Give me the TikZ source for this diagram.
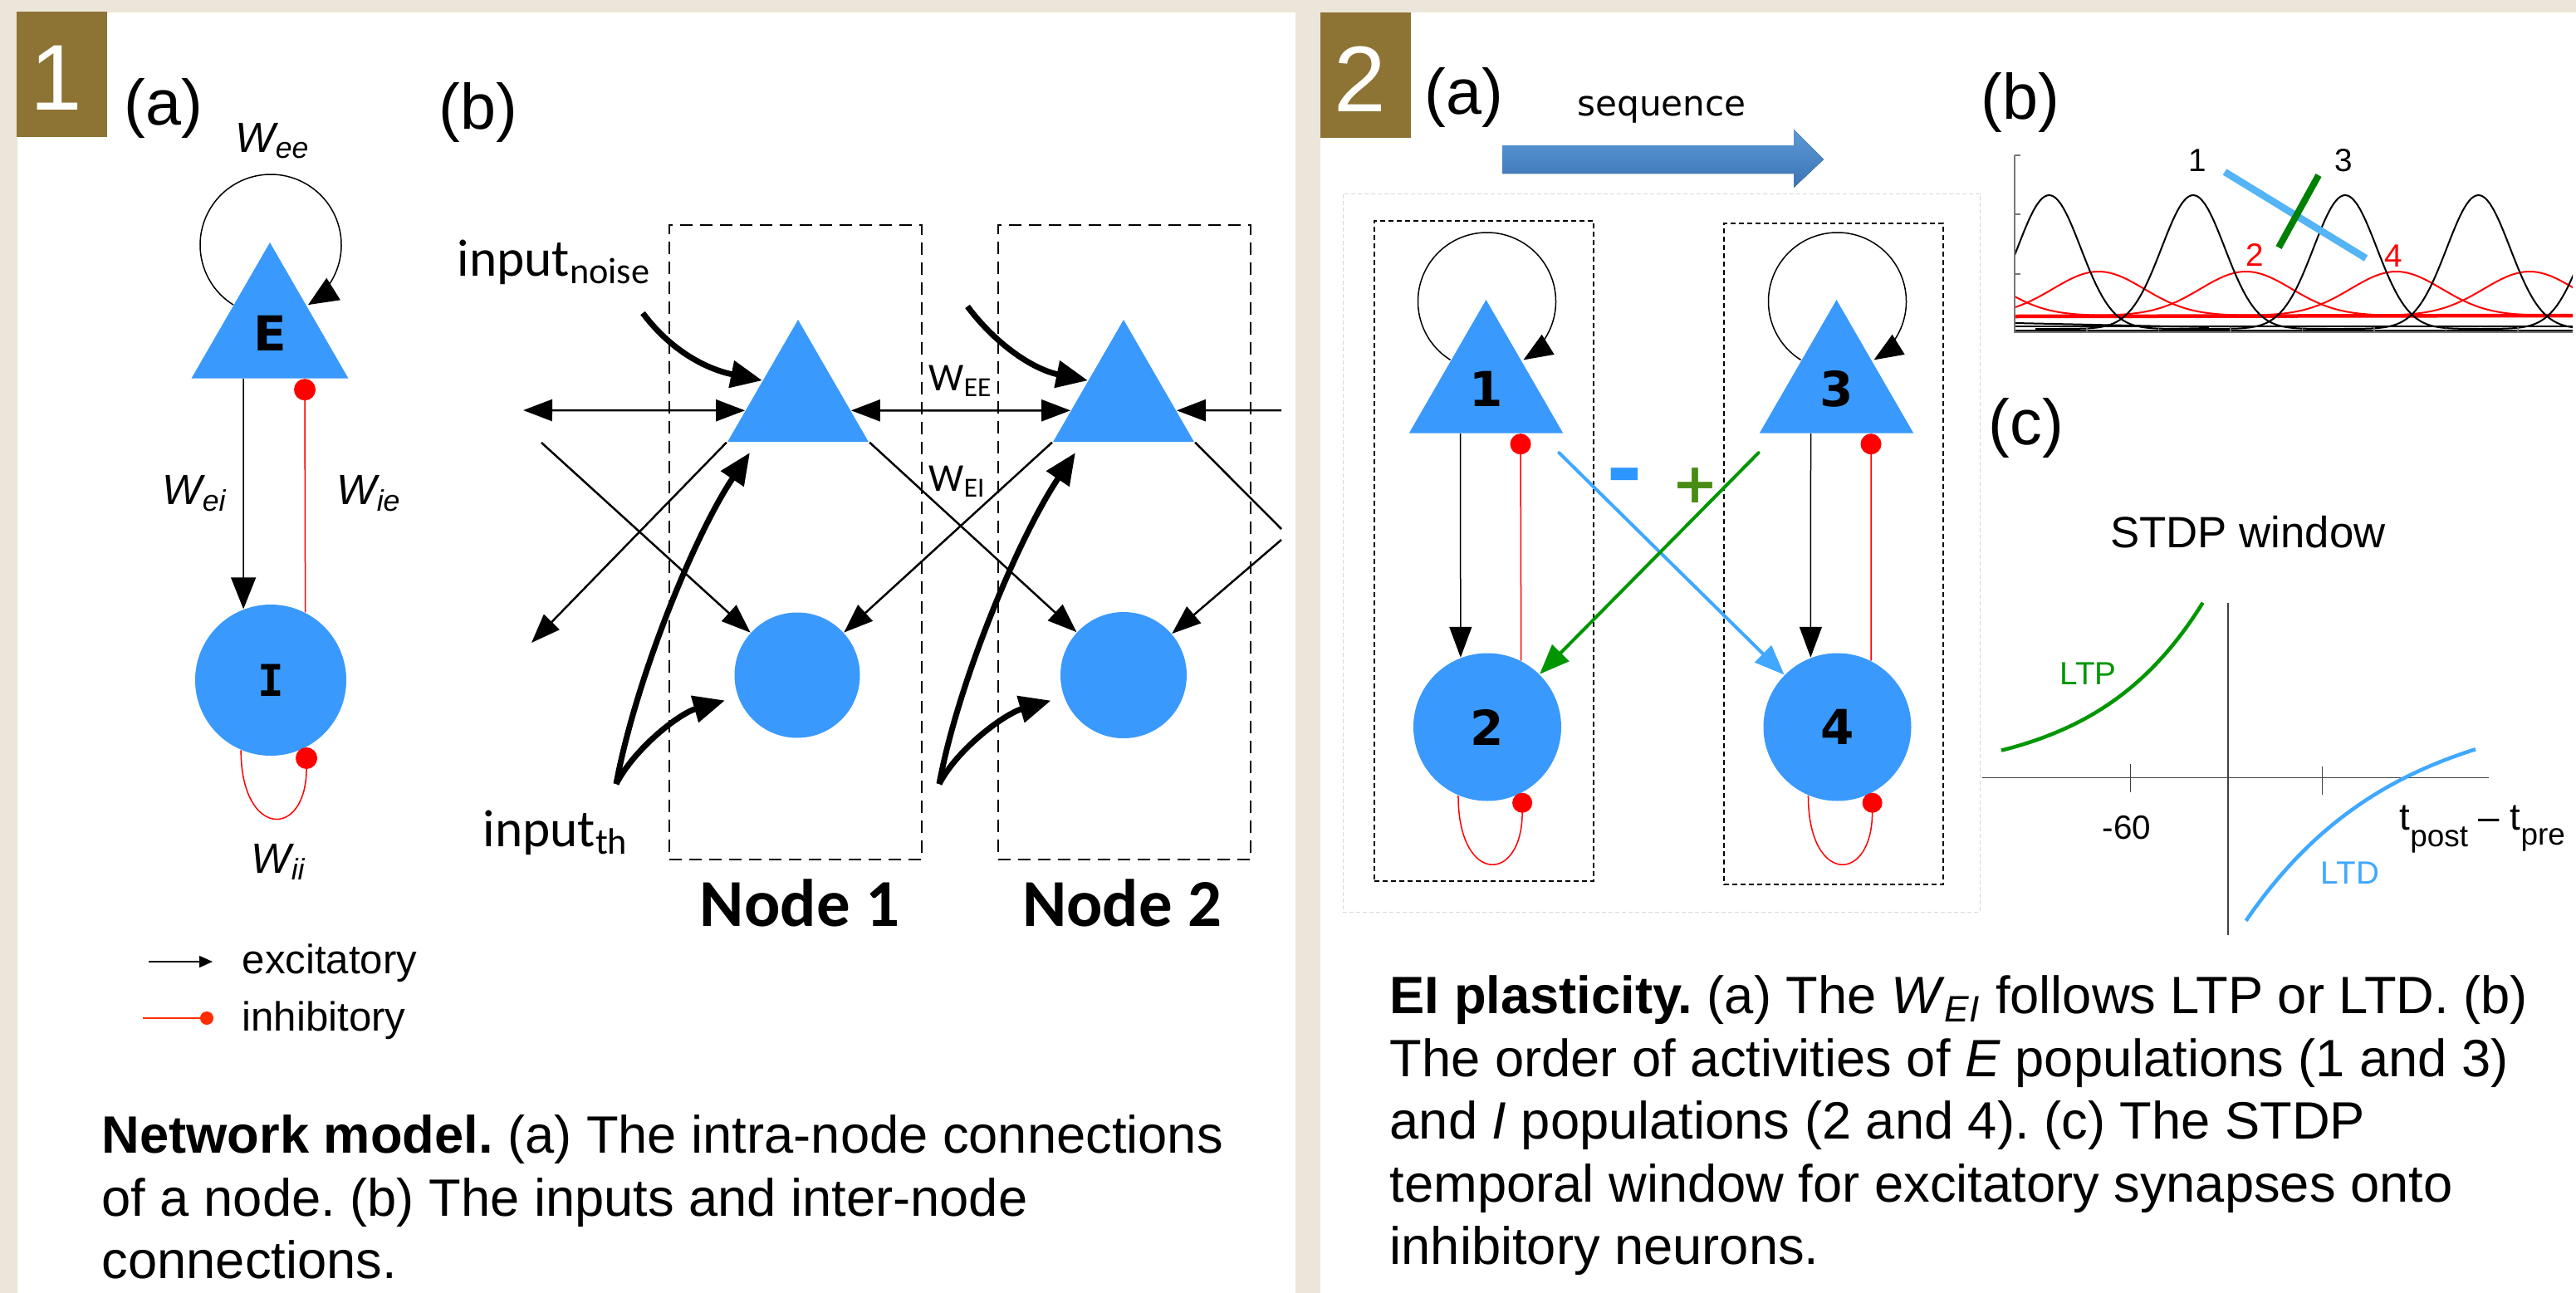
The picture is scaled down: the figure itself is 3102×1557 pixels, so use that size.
\documentclass[tikz,border=0pt]{standalone}
\usepackage{fontspec}
\setmainfont{Liberation Sans}
\newfontfamily\califont{Carlito}
\newfontfamily\verdfont{DejaVu Sans}
\newfontfamily\verdmono{DejaVu Sans Mono}
\usetikzlibrary{shapes.geometric, arrows.meta, positioning, calc}
\newcommand{\fsz}[1]{\fontsize{#1}{#1}\selectfont}
\frenchspacing

\definecolor{beige}{RGB}{236,229,217}
\definecolor{brownbox}{RGB}{141,115,52}
\definecolor{neuron}{RGB}{58,153,252}
\definecolor{inhred}{RGB}{255,0,0}
\definecolor{legred}{RGB}{255,45,0}
\definecolor{seqtop}{RGB}{92,152,215}
\definecolor{seqbot}{RGB}{60,116,180}
\definecolor{ltdblue}{RGB}{64,168,255}
\definecolor{minusblue}{RGB}{45,150,255}
\definecolor{ltpgreen}{RGB}{0,150,0}
\definecolor{plusgreen}{RGB}{72,140,20}
\definecolor{barblue}{RGB}{85,180,245}
\definecolor{bargreen}{RGB}{0,128,0}
\definecolor{faintgray}{RGB}{215,215,215}
\definecolor{axisgray}{RGB}{120,120,120}

\tikzset{
    numbox/.style={rectangle, fill=brownbox, minimum width=10.9mm, minimum height=15.1mm, inner sep=0},
    numtxt/.style={text=white, font=\fsz{32}, inner sep=0},
    sublbl/.style={font=\fsz{22}, inner sep=0, anchor=base west},
    pyr/.style={regular polygon, regular polygon sides=3, fill=neuron, inner sep=0},
    cell/.style={circle, fill=neuron, inner sep=0},
    exc/.style={draw=black, line width=0.15mm, -{Triangle[length=3.8mm, width=3mm]}},
    inh/.style={draw=inhred, line width=0.15mm, -{Circle[length=2.6mm]}},
    wlbl/.style={font=\fsz{14.5}\itshape, inner sep=0, anchor=base west},
    legtxt/.style={font=\fsz{14}, inner sep=0, anchor=west},
    nodebox/.style={draw=black, line width=0.25mm, dash pattern=on 1.5mm off 0.9mm},
    netlink/.style={draw=black, line width=0.25mm, -{Triangle[length=3.5mm, width=2.6mm]}},
    netlink2/.style={netlink, {Triangle[length=3.5mm, width=2.6mm]}-{Triangle[length=3.5mm, width=2.6mm]}},
    drive/.style={draw=black, line width=0.7mm, -{Triangle[length=3.8mm, width=3.2mm]}},
    cbl/.style={font=\califont\fsz{18}, inner sep=0, anchor=base west},
    nodelbl/.style={font=\califont\bfseries\fsz{23}, inner sep=0, anchor=base},
    ctxbox/.style={draw=faintgray, line width=0.1mm, dash pattern=on 0.5mm off 0.3mm},
    popbox/.style={draw=black, line width=0.15mm, dash pattern=on 0.6mm off 0.4mm},
    popnum/.style={font=\verdfont\bfseries\fsz{16.5}},
    plast/.style={line width=0.4mm, line cap=round, -{Triangle[length=3.6mm, width=2.8mm]}},
    redtrace/.style={draw=inhred, line width=0.2mm},
    blacktrace/.style={draw=black, line width=0.2mm},
    axisline/.style={draw=black!75, line width=0.12mm},
    smalllbl/.style={font=\fsz{11}, inner sep=0, anchor=base},
    captxt/.style={font=\fontsize{18}{21.5}\selectfont, align=left, inner sep=0, anchor=north west}
}

\begin{document}
\begin{tikzpicture}[x=0.1mm, y=-0.1mm]
\useasboundingbox (0,0) rectangle (3102,1557);

% Background and panels
\fill[beige] (0,0) rectangle (3102,1557);
\fill[white] (21,15) rectangle (1560,1557);
\fill[white] (1590,15) rectangle (3102,1557);

% Panel 1 (a): one node
\node[numbox] (num1) at (74.5,89.5) {};
\node[numtxt] (num1t) at ([xshift=-0.7mm, yshift=-0.4mm]num1.center) {1};
\node[sublbl] (lblA1) at (149,150) {(a)};

\node[pyr, minimum size=21.8mm, font=\verdfont\bfseries\fsz{16.5}] (E) at (325,401) {E};
\node[cell, minimum size=18.2mm, font=\verdmono\bfseries\fsz{15}] (I) at (326,819) {I};

\draw[exc, -{Triangle[length=3.6mm, width=3.1mm]}] ($(E.center)+(1,-106)+(122:85)$) arc[start angle=122, end angle=418, radius=85];
\draw[exc] ([xshift=-3.2mm]E.south) -- (I.111);
\draw[inh] (I.63) -- ([xshift=4.2mm]E.south);
\draw[inh] (I.247) .. controls +(0,106) and +(0,111) .. (I.298);

\node[wlbl] (wee) at (283,183) {W\textsubscript{ee}};
\node[wlbl] (wei) at (195,607) {W\textsubscript{ei}};
\node[wlbl] (wie) at (405,607) {W\textsubscript{ie}};
\node[wlbl] (wii) at (302,1051) {W\textsubscript{ii}};

% Legend
\coordinate (excA) at (179,1158);
\coordinate (excB) at (256,1158);
\coordinate (inhA) at (172,1226);
\coordinate (inhB) at (257,1226);
\draw[line width=0.15mm, -{Triangle[length=1.6mm, width=1.4mm]}] (excA) -- (excB);
\draw[legred, line width=0.15mm, -{Circle[length=1.6mm]}] (inhA) -- (inhB);
\node[legtxt] (excT) at (291,1160) {excitatory};
\node[legtxt] (inhT) at (291,1229) {inhibitory};

% Panel 1 (b): two nodes
\node[sublbl] (lblB1) at (528,155) {(b)};
\node[nodebox, minimum width=30.4mm, minimum height=76.4mm] (B1) at (958,653) {};
\node[nodebox, minimum width=30.4mm, minimum height=76.4mm] (B2) at (1354,653) {};
\node[pyr, minimum size=19.6mm] (T1) at (961,483) {};
\node[pyr, minimum size=19.6mm] (T2) at (1353,483) {};
\node[cell, minimum size=15.1mm] (C1) at (960,813) {};
\node[cell, minimum size=15.2mm] (C2) at (1353,813) {};

\coordinate (farL) at (630,494);
\coordinate (farR) at (1543,494);
\coordinate (outL) at (640,774);
\coordinate (inL) at (652,533);
\coordinate (outR) at (1543,637);
\coordinate (inR) at (1543,650);
\coordinate (nz1) at (774,377);
\coordinate (nz2) at (1165,369);
\coordinate (th1) at (742,944);
\coordinate (th2) at (1131,944);

\draw[netlink2] (farL) -- (T1.190);
\draw[netlink2] (T1.350) -- (T2.190);
\draw[netlink] (farR) -- (T2.350);
\draw[netlink] (T1.corner 2) -- (outL);
\draw[netlink] (inL) -- (C1);
\draw[netlink] (T1.corner 3) -- (C2);
\draw[netlink] (T2.corner 2) -- (C1);
\draw[netlink, -] (T2.corner 3) -- (outR);
\draw[netlink] (inR) -- (C2);

% External inputs
\foreach \k in {1,2} {
    \draw[drive] (nz\k) .. controls +(36,48) and +(-64,-13) .. (T\k.150);
    \draw[drive, shorten >=1.5mm] (th\k) .. controls +(23,-124) and +(-76,113) .. (T\k.225);
    \draw[drive, shorten >=1.6mm] (th\k) .. controls +(23,-44) and +(-70,20) .. (C\k.200);
}

\node[cbl] (innoise) at (550,332) {input\textsubscript{noise}};
\node[cbl] (inth) at (581,1019) {input\textsubscript{th}};
\node[cbl, font=\califont\fsz{13.5}] (wEE) at (1118,470) {W\textsubscript{EE}};
\node[cbl, font=\califont\fsz{13.5}] (wEI) at (1118,591) {W\textsubscript{EI}};
\node[nodelbl] (N1) at (963,1115) {Node 1};
\node[nodelbl] (N2) at (1351,1115) {Node 2};

% Panel 2 (a): EI plasticity
\node[numbox] (num2) at (1644,90) {};
\node[numtxt] (num2t) at ([xshift=-0.6mm, yshift=-0.5mm]num2.center) {2};
\node[sublbl] (lblA2) at (1715,137) {(a)};

\fill[top color=seqtop, bottom color=seqbot] (1809,175) -- (2160,175) -- (2160,156) -- (2196,192) -- (2160,226) -- (2160,209) -- (1809,209) -- cycle;
\node[font=\verdfont\fsz{12}, inner sep=0, anchor=base] (seq) at (2001,139) {sequence};

\node[ctxbox, minimum width=76.7mm, minimum height=86.5mm] (ctx) at (2000.5,665.5) {};
\node[popbox, minimum width=26.4mm, minimum height=79.5mm] (A1) at (1787,663.5) {};
\node[popbox, minimum width=26.4mm, minimum height=79.6mm] (A2) at (2208,667) {};

\node[pyr, minimum size=21.4mm, popnum] (P1) at (1789.5,468) {1};
\node[pyr, minimum size=21.4mm, popnum] (P3) at (2211.5,468) {3};
\node[cell, minimum size=17.8mm, popnum] (Q2) at (1791,875.5) {2};
\node[cell, minimum size=17.8mm, popnum] (Q4) at (2212.5,875.5) {4};

\foreach \pp/\qq in {P1/Q2, P3/Q4} {
    \draw[exc, -{Triangle[length=3.5mm, width=2.8mm]}] ($(\pp.center)+(1,-105)+(122:83)$) arc[start angle=122, end angle=418, radius=83];
    \draw[exc, -{Triangle[length=3.7mm, width=2.7mm]}] ([xshift=-3.1mm]\pp.south) -- (\qq.111);
    \draw[inh, -{Circle[length=2.5mm]}] (\qq.63) -- ([xshift=4.15mm]\pp.south);
    \draw[inh, -{Circle[length=2.4mm]}] (\qq.247) .. controls +(0,108) and +(0,110) .. (\qq.298);
}

\draw[plast, draw=ltdblue] ([shift={(-0.6mm,-2.3mm)}]P1.corner 3) -- (Q4);
\draw[plast, draw=ltpgreen] ([yshift=-2.3mm]P3.corner 2) -- (Q2);
\node[font=\verdfont\bfseries\fsz{30}, text=minusblue, inner sep=0] (minus) at (1956,583) {-};
\node[font=\verdfont\bfseries\fsz{19}, text=plusgreen, inner sep=0] (plus) at (2041,585) {+};

% Panel 2 (b): activity order
\node[sublbl] (lblB2) at (2385,143) {(b)};
\begin{scope}
    \clip (2426,150) rectangle (3098,400);
    \draw[redtrace, line width=0.45mm] (2426,381) -- (3098,380);
    \foreach \pk in {2355,2527,2704.6,2885.5,3046}
        \draw[redtrace] plot[domain=\pk-220:\pk+220, samples=60, smooth] (\x,{380-53*exp(-0.5*((\x-\pk)/55)*((\x-\pk)/55))});
    \foreach \pk in {2467.5,2641,2824,2984.5,3150}
        \draw[blacktrace] plot[domain=\pk-190:\pk+190, samples=70, smooth] (\x,{396-161*exp(-0.5*((\x-\pk)/38)*((\x-\pk)/38))});
    \draw[blacktrace] (2426,389) -- (2660,394);
    \draw[blacktrace] (2426,393) -- (3098,393);
    \draw[blacktrace, line width=0.3mm] (2426,398) -- (3098,398);
\end{scope}
\draw[axisgray, line width=0.12mm] (2426,187) -- (2426,400) -- (3098,400);
\foreach \ty in {187,258,330}
    \draw[axisgray, line width=0.12mm] (2426,\ty) -- (2433,\ty);
\foreach \tx in {2513,2599.5,2686,2772.5,2859,2945.5,3032}
    \draw[axisgray, line width=0.12mm] (\tx,400) -- (\tx,394);

\coordinate (bl1) at (2679,207);
\coordinate (bl2) at (2849,311);
\coordinate (gr1) at (2792,211);
\coordinate (gr2) at (2744,298);
\draw[barblue, line width=0.85mm] (bl1) -- (bl2);
\draw[bargreen, line width=0.8mm] (gr1) -- (gr2);
\node[smalllbl] (act1) at (2646,206) {1};
\node[smalllbl] (act3) at (2822,206) {3};
\node[smalllbl, text=inhred] (act2) at (2715,320) {2};
\node[smalllbl, text=inhred] (act4) at (2882,321) {4};

% Panel 2 (c): STDP window
\node[sublbl] (lblC2) at (2394,535) {(c)};
\node[font=\fsz{15}, inner sep=0, anchor=base] (stdp) at (2707,659) {STDP window};
\coordinate (xL) at (2387,936.6);
\coordinate (xR) at (2997,936.6);
\coordinate (yT) at (2683,726);
\coordinate (yB) at (2683,1126);
\draw[axisline] (xL) -- (xR);
\draw[axisline] (yT) -- (yB);
\draw[axisline] (2565.5,920) -- (2565.5,953.6);
\draw[axisline] (2796.7,923) -- (2796.7,957);
\draw[ltpgreen, line width=0.45mm] plot[domain=2410:2652.6, samples=50, smooth] (\x,{936.6-266*exp((\x-2683)/130.8)});
\draw[ltdblue, line width=0.45mm] plot[domain=2704.6:2981, samples=50, smooth] (\x,{845.6+296.6*exp(-(\x-2683)/180)});
\node[font=\fsz{11.5}, inner sep=0, anchor=base] (m60) at (2561,1010) {-60};
\node[smalllbl, text=ltpgreen] (ltp) at (2514.5,824) {LTP};
\node[smalllbl, text=ltdblue] (ltd) at (2830,1064) {LTD};
\node[font=\fsz{13}, inner sep=0, anchor=base west] (dt) at (2889,999) {t\raisebox{-2mm}{\fsz{10.5}post} -- t\raisebox{-1.8mm}{\fsz{10.5}pre}};

% Captions
\node[captxt] (capNet) at (122,1342) {\textbf{Network model.} (a) The intra-node connections\\of a node. (b) The inputs and inter-node\\connections.};
\node[captxt] (capEI) at (1673,1174) {\textbf{EI plasticity.} (a) The \textit{W}\textsubscript{\textit{EI}} follows LTP or LTD. (b)\\The order of activities of \textit{E} populations (1 and 3)\\and \textit{I} populations (2 and 4). (c) The STDP\\temporal window for excitatory synapses onto\\inhibitory neurons.};

\end{tikzpicture}
\end{document}
